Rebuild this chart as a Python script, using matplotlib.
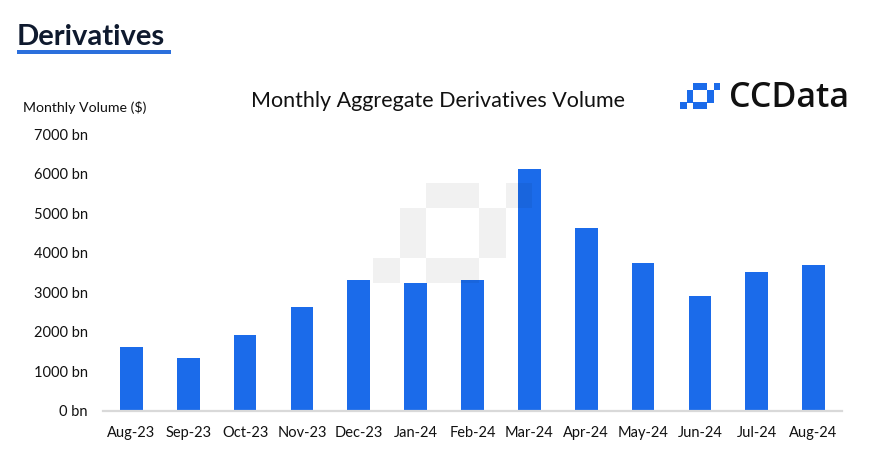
import matplotlib
matplotlib.use("Agg")
import matplotlib.pyplot as plt
from matplotlib.patches import Rectangle

months = ["Aug-23", "Sep-23", "Oct-23", "Nov-23", "Dec-23", "Jan-24", "Feb-24",
          "Mar-24", "Apr-24", "May-24", "Jun-24", "Jul-24", "Aug-24"]
volume_bn = [1610, 1330, 1920, 2620, 3300, 3230, 3300, 6120, 4620, 3750, 2900, 3520, 3690]
y_ticks = [0, 1000, 2000, 3000, 4000, 5000, 6000, 7000]
y_tick_labels = [f"{v} bn" for v in y_ticks]

W, H = 871, 462
BLUE = "#1B6BEA"
DARK = "#0F1A2E"
FONT = "Lato"

fig = plt.figure(figsize=(W / 100, H / 100), dpi=100)
fig.patch.set_facecolor("white")

def fx(px):
    return px / W

def fy(py):
    return 1 - py / H

# axes
ax = fig.add_axes([fx(103), fy(410.5), fx(842) - fx(103), fy(134.5) - fy(410.5)])
x = list(range(len(months)))
ax.bar(x, volume_bn, width=0.4, color=BLUE, zorder=2)
ax.set_xlim(-0.5, len(months) - 0.5)
ax.set_ylim(0, 7000)
ax.set_yticks(y_ticks)
ax.set_yticklabels(y_tick_labels)
ax.set_xticks(x)
ax.set_xticklabels(months)
for s in ["top", "right", "left"]:
    ax.spines[s].set_visible(False)
ax.spines["bottom"].set_color("#D9D9D9")
ax.spines["bottom"].set_linewidth(1.6)
ax.tick_params(axis="both", length=0, labelsize=10.5, labelcolor="#111111")
ax.tick_params(axis="y", pad=11)
ax.tick_params(axis="x", pad=11)
for lab in ax.get_xticklabels() + ax.get_yticklabels():
    lab.set_fontfamily(FONT)
ax.set_facecolor("none")

# watermark (logo shape) drawn on top with low alpha
unit_w, unit_h = 26.5, 25.0
x0, y0 = 373.0, 183.0
cells = [(0, 3, 1, 1), (1, 1, 1, 2), (2, 0, 2, 1), (4, 1, 1, 2), (2, 3, 2, 1), (5, 0, 1, 1)]
for c, r, cw, rh in cells:
    px = x0 + c * unit_w
    py = y0 + r * unit_h
    fig.add_artist(Rectangle((fx(px), fy(py + rh * unit_h)),
                             fx(cw * unit_w), (rh * unit_h) / H,
                             transform=fig.transFigure, facecolor="black",
                             alpha=0.055, edgecolor="none", zorder=5))

# header
fig.text(fx(17), fy(37), "Derivatives", fontsize=21, fontweight="bold", color=DARK,
         fontfamily=FONT, va="center", ha="left")
fig.add_artist(Rectangle((fx(17), fy(54)), fx(154), 4 / H, transform=fig.transFigure,
                         facecolor="#2B6FDC", edgecolor="none"))

fig.text(fx(23), fy(107), "Monthly Volume ($)", fontsize=10.2, color="#111111",
         fontfamily=FONT, va="center", ha="left")
fig.text(fx(438), fy(101), "Monthly Aggregate Derivatives Volume", fontsize=15.5,
         color="#111111", fontfamily=FONT, va="center", ha="center")

# CCData logo
lu_w, lu_h = 6.7, 6.5
lx0, ly0 = 680.0, 83.0
for c, r, cw, rh in cells:
    px = lx0 + c * lu_w
    py = ly0 + r * lu_h
    fig.add_artist(Rectangle((fx(px), fy(py + rh * lu_h)), fx(cw * lu_w), rh * lu_h / H,
                             transform=fig.transFigure, facecolor=BLUE, edgecolor="none"))
fig.text(fx(729), fy(98), "CCData", fontsize=24.5, color="#111111", fontfamily="Open Sans",
         fontweight="semibold", va="center", ha="left")

fig.savefig("out.png", dpi=100)
